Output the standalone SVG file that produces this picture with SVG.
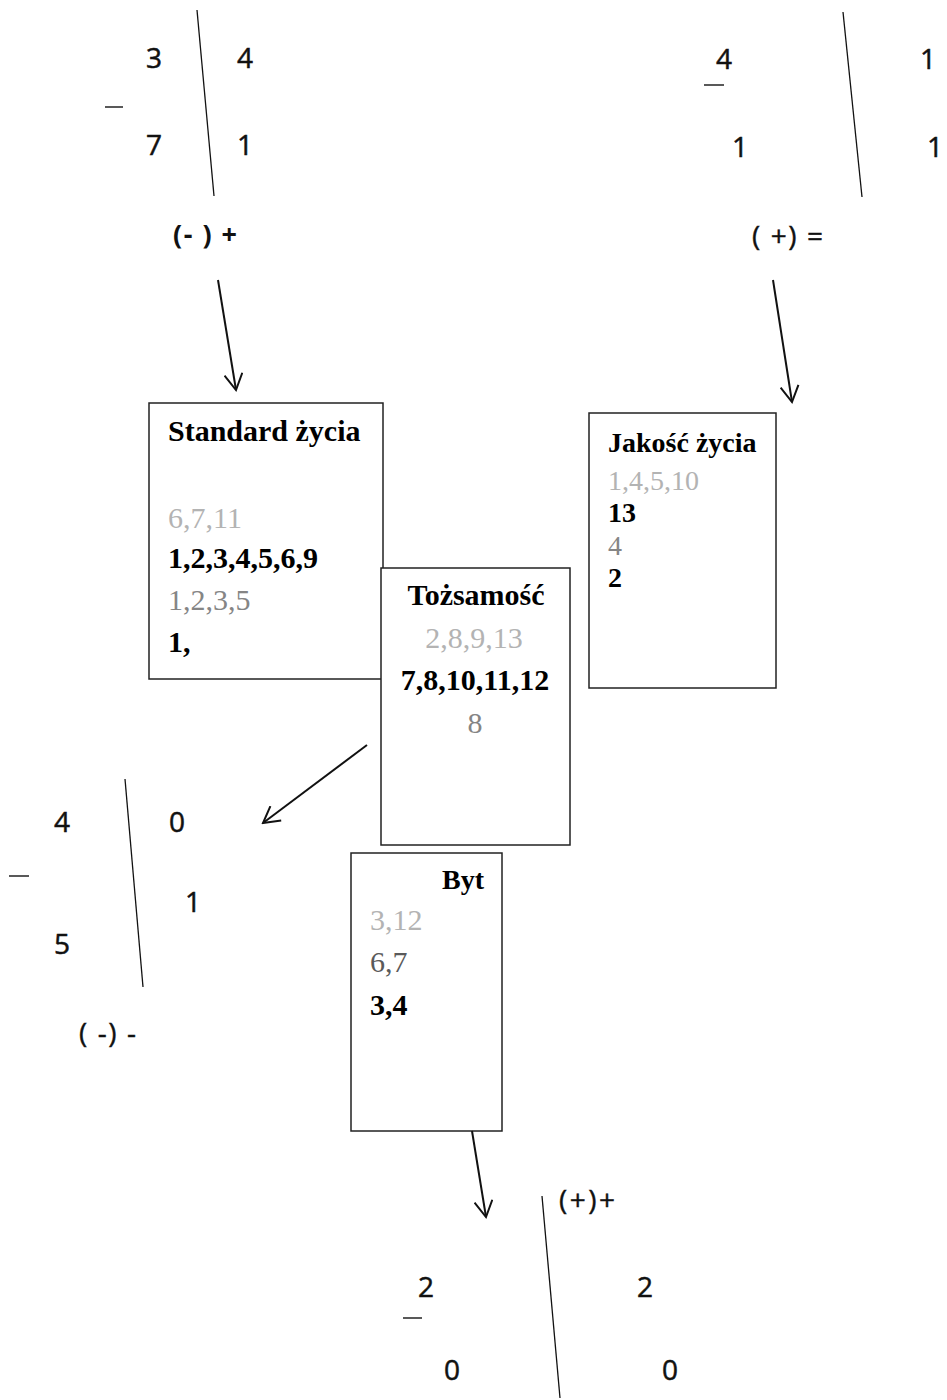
<svg xmlns="http://www.w3.org/2000/svg" width="947" height="1400" viewBox="0 0 947 1400">
<defs>
<style>
.num{font-family:"Open Sans","Liberation Sans",Arial,sans-serif;font-size:28px;fill:#111;stroke:#111;stroke-width:0.5}
.lbl{font-family:"Open Sans","Liberation Sans",Arial,sans-serif;font-size:28px;fill:#111;stroke:#111;stroke-width:0.4}
.lblb{font-family:"Open Sans","Liberation Sans",Arial,sans-serif;font-size:27px;font-weight:bold;fill:#111}
.div{stroke:#111;stroke-width:1.3;fill:none}
.dash{stroke:#222;stroke-width:1.5}
.box{fill:#fff;stroke:#222;stroke-width:1.5}
.t{font-family:"Liberation Serif","Times New Roman",serif;font-size:30px}
.t28{font-family:"Liberation Serif","Times New Roman",serif;font-size:28px}
.b{font-weight:bold;fill:#000}
.lg{fill:#b3b3b3}
.mg{fill:#858585}
.dg{fill:#5a5a5a}
.arr{stroke:#111;stroke-width:2;fill:none;marker-end:url(#head)}
</style>
<marker id="head" viewBox="0 0 20 20" refX="18" refY="10" markerWidth="20" markerHeight="20" markerUnits="userSpaceOnUse" orient="auto">
<path d="M2,1 L18,10 L2,19" fill="none" stroke="#111" stroke-width="2"/>
</marker>
</defs>
<rect width="947" height="1400" fill="#fff"/>

<g id="table-top-left">
<line class="div" x1="197" y1="10" x2="214" y2="196"/>
<text class="num" x="146" y="68">3</text>
<text class="num" x="237" y="68">4</text>
<line class="dash" x1="105" y1="107" x2="123" y2="107"/>
<text class="num" x="146" y="155">7</text>
<text class="num" x="237" y="155">1</text>
<text class="lblb" x="173" y="244" textLength="64">(- ) +</text>
</g>

<g id="table-top-right">
<line class="div" x1="843" y1="12" x2="862" y2="197"/>
<text class="num" x="716" y="69">4</text>
<line class="dash" x1="704" y1="85" x2="724" y2="85"/>
<text class="num" x="732" y="157">1</text>
<text class="num" x="920" y="69">1</text>
<text class="num" x="927" y="157">1</text>
<text class="lbl" x="752" y="246" textLength="71">( +) =</text>
</g>

<g id="table-bottom-left">
<line class="div" x1="125" y1="779" x2="143" y2="987"/>
<text class="num" x="54" y="832">4</text>
<text class="num" x="169" y="832">0</text>
<line class="dash" x1="9" y1="876" x2="29" y2="876"/>
<text class="num" x="185" y="912">1</text>
<text class="num" x="54" y="954">5</text>
<text class="lbl" x="79" y="1043" textLength="57">( -) -</text>
</g>

<g id="table-bottom">
<line class="div" x1="542" y1="1196" x2="560" y2="1398"/>
<text class="lbl" x="559" y="1210" textLength="56">(+)+</text>
<text class="num" x="418" y="1297">2</text>
<line class="dash" x1="403" y1="1318" x2="422" y2="1318"/>
<text class="num" x="444" y="1380">0</text>
<text class="num" x="637" y="1297">2</text>
<text class="num" x="662" y="1380">0</text>
</g>

<g id="node-standard">
<rect class="box" x="149" y="403" width="234" height="276"/>
<text class="t b" x="168" y="441">Standard życia</text>
<text class="t lg" x="168" y="528">6,7,11</text>
<text class="t b" x="168" y="568">1,2,3,4,5,6,9</text>
<text class="t mg" x="168" y="610">1,2,3,5</text>
<text class="t b" x="168" y="652">1,</text>
</g>

<g id="node-tozsamosc">
<rect class="box" x="381" y="568" width="189" height="277"/>
<text class="t b" x="476" y="605" text-anchor="middle">Tożsamość</text>
<text class="t lg" x="474" y="648" text-anchor="middle">2,8,9,13</text>
<text class="t b" x="475" y="690" text-anchor="middle">7,8,10,11,12</text>
<text class="t mg" x="475" y="733" text-anchor="middle">8</text>
</g>

<g id="node-jakosc">
<rect class="box" x="589" y="413" width="187" height="275"/>
<text class="t28 b" x="608" y="452">Jakość życia</text>
<text class="t28 lg" x="608" y="490">1,4,5,10</text>
<text class="t28 b" x="608" y="522">13</text>
<text class="t28 mg" x="608" y="555">4</text>
<text class="t28 b" x="608" y="587">2</text>
</g>

<g id="node-byt">
<rect class="box" x="351" y="853" width="151" height="278"/>
<text class="t28 b" x="442" y="889">Byt</text>
<text class="t lg" x="370" y="930">3,12</text>
<text class="t dg" x="370" y="972">6,7</text>
<text class="t b" x="370" y="1015">3,4</text>
</g>

<g id="connectors">
<line class="arr" x1="218" y1="280" x2="236" y2="390"/>
<line class="arr" x1="773" y1="280" x2="792" y2="402"/>
<line class="arr" x1="367" y1="745" x2="263" y2="823"/>
<line class="arr" x1="472" y1="1131" x2="486" y2="1217"/>
</g>
</svg>
